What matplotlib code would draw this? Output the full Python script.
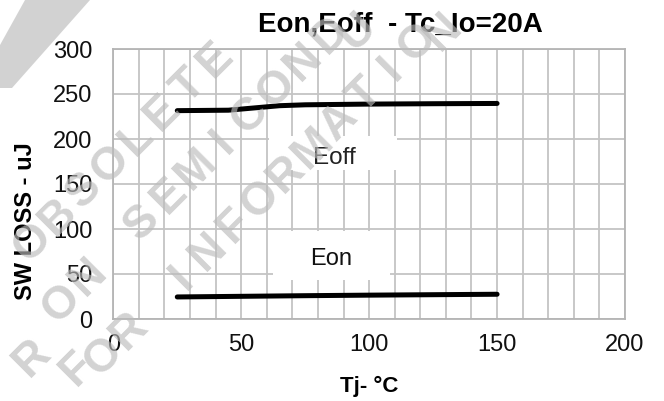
import numpy as np
import matplotlib
matplotlib.use("Agg")
import matplotlib.pyplot as plt
import matplotlib.patches as mpatches

# data
TJ_OFF = [25, 45, 55, 65, 75, 100, 125, 150]
EOFF = [231.5, 232.0, 234.5, 237.0, 238.0, 238.8, 239.2, 239.5]
TJ_ON = [25, 50, 75, 100, 125, 150]
EON = [24.5, 25.2, 25.9, 26.5, 27.0, 27.5]
X_TICKS = list(range(0, 201, 10))
Y_TICKS = list(range(0, 301, 50))

W, H = 664, 401
plt.rcParams['font.family'] = ['Liberation Sans', 'DejaVu Sans']

fig = plt.figure(figsize=(W / 100, H / 100), dpi=100)
ax = fig.add_axes([113.3 / W, 1 - 319 / H, (625 - 113.3) / W, 270 / H])
ax.set_xlim(0, 200)
ax.set_ylim(0, 300)
ax.set_xticks(X_TICKS)
ax.set_xticklabels([str(v) if v % 50 == 0 else '' for v in X_TICKS])
ax.set_yticks(Y_TICKS)
ax.tick_params(length=0, labelsize=17, labelcolor='#111111')
ax.tick_params(axis='y', pad=15)
ax.tick_params(axis='x', pad=10.5)
ax.set_axisbelow(True)
ax.grid(color='#c4c4c4', lw=1.3)
for s in ax.spines.values():
    s.set_color('#b4b4b4')
    s.set_linewidth(1.3)

ax.plot(TJ_OFF, EOFF, color='black', lw=3.6, solid_capstyle='round', zorder=3)
ax.plot(TJ_ON, EON, color='black', lw=3.6, solid_capstyle='round', zorder=3)

# white label boxes
ax.add_patch(mpatches.Rectangle((61, 166), 50, 37, facecolor='white', edgecolor='none', zorder=1.5))
ax.add_patch(mpatches.Rectangle((62.5, 43), 45.5, 55, facecolor='white', edgecolor='none', zorder=1.5))
ax.text(86.4, 179.4, 'Eoff', fontsize=17.5, ha='center', va='center', color='#222222', zorder=4)
ax.text(85.2, 66.7, 'Eon', fontsize=17, ha='center', va='center', color='#111111', zorder=4)

fig.text(400 / W, 1 - 25 / H, 'Eon,Eoff  - Tc_Io=20A', fontsize=20, fontweight='bold',
         ha='center', va='center')
fig.text(26 / W, 1 - 221 / H, 'SW LOSS - uJ', rotation=90, fontsize=17, fontweight='bold',
         ha='center', va='center')
fig.text(369 / W, 1 - 386 / H, 'Tj- °C', fontsize=16, fontweight='bold',
         ha='center', va='center')

# watermark
WM_COLOR = '#bbbbbb'
WM_ALPHA = 0.65


def watermark(text, idx, px, py, step=37, angle=45, size=33):
    a = np.radians(angle)
    for i, ch in enumerate(text):
        x = px + (i - idx) * step * np.cos(a)
        y = py - (i - idx) * step * np.sin(a)
        if 5 < x < W - 5 and 5 < y < H + 5:
            x = min(max(x, 32), W - 32)
            y = min(max(y, 32), H - 32)
            fig.text(x / W, 1 - y / H, ch, rotation=angle, rotation_mode='anchor',
                     ha='center', va='center', fontsize=size, fontweight='bold',
                     color=WM_COLOR, alpha=WM_ALPHA, zorder=10)


watermark('THIS DEVICE IS OBSOLETE', 22, 215, 60)
watermark('CONTACT YOUR ON SEMICONDUCTOR REPRESENTATIVE', 24, 357, 8, step=38)
watermark('FOR INFORMATION', 0, 77, 383)

corner = [(25, 0), (90, 0), (12, 88), (0, 88), (0, 45)]
fig.add_artist(mpatches.Polygon([(x / W, 1 - y / H) for x, y in corner],
                                closed=True, transform=fig.transFigure,
                                facecolor=WM_COLOR, edgecolor='none', alpha=WM_ALPHA, zorder=10))

fig.savefig('out.png', dpi=100)
